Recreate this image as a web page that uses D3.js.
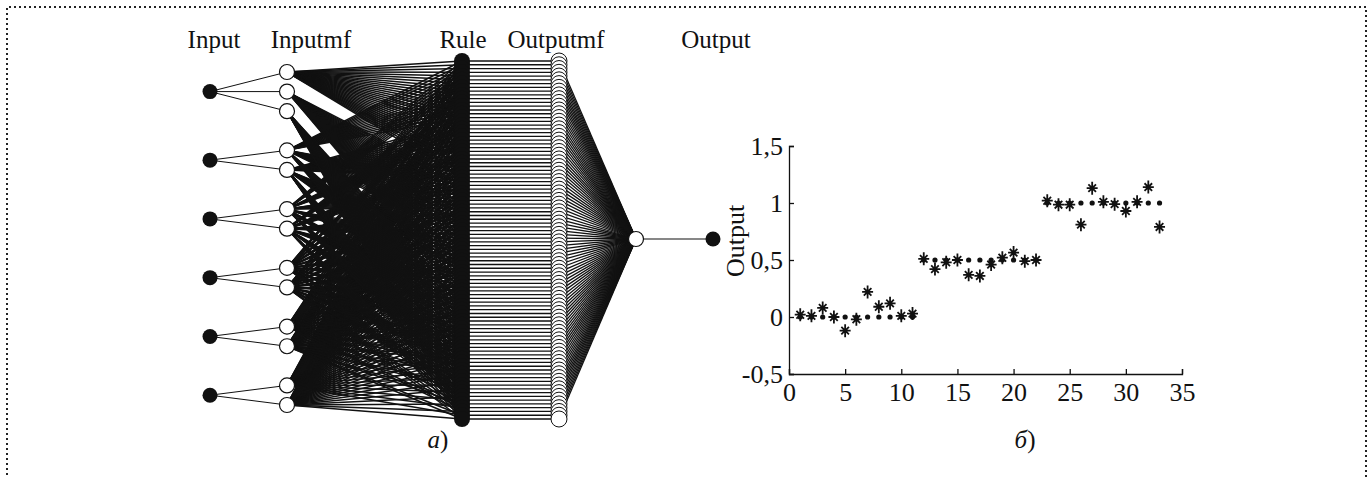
<!DOCTYPE html>
<html><head><meta charset="utf-8">
<script src="https://cdn.jsdelivr.net/npm/d3@7"></script>
<style>
html,body{margin:0;padding:0;background:#fff;}
svg{display:block;}
svg text{font-family:"Liberation Serif","DejaVu Serif",serif !important;}
</style></head>
<body>
<svg id="c" width="1372" height="477"></svg>
<script>
// ---------- data ----------
const layerNames = ["Input", "Inputmf", "Rule", "Outputmf", "Output"];
const mfPerInput = [3, 2, 2, 2, 2, 2];
const caseIdx = [1,2,3,4,5,6,7,8,9,10,11,12,13,14,15,16,17,18,19,20,21,22,23,24,25,26,27,28,29,30,31,32,33];
const targetVals = [0,0,0,0,0,0,0,0,0,0,0, 0.5,0.5,0.5,0.5,0.5,0.5,0.5,0.5,0.5,0.5,0.5, 1,1,1,1,1,1,1,1,1,1,1];
const outputVals = [0.02,0.01,0.08,0.0,-0.12,-0.02,0.22,0.09,0.12,0.01,0.03,
                    0.51,0.42,0.48,0.50,0.37,0.36,0.46,0.52,0.565,0.49,0.50,
                    1.02,0.985,0.985,0.81,1.13,1.01,0.99,0.93,1.01,1.14,0.79];
const xTicks = [0,5,10,15,20,25,30,35];
const yTicks = [-0.5,0,0.5,1,1.5];
const yTickLabels = ["-0,5","0","0,5","1","1,5"];
const captions = ["а", "б"];

const svg = d3.select("#c");
const SERIF = '"Liberation Serif","DejaVu Serif",serif';

// ---------- dotted frame ----------
svg.append("path").attr("d","M7,490 L7,7 L1366,7 L1366,490")
  .attr("stroke","#222").attr("stroke-width",2).attr("stroke-dasharray","2,3").attr("fill","none");

// ---------- network diagram ----------
const net = svg.append("g");
const xPos = {Input: 210, Inputmf: 287, Rule: 462, Outputmf: 559, Agg: 636, Output: 713};

// membership-function slots (groups separated by one empty slot)
const mfNodes = [];
let slot = 0;
mfPerInput.forEach((n, i) => {
  for (let j = 0; j < n; j++) { mfNodes.push({input: i, mf: j, slot: slot}); slot++; }
  slot++;
});
const ySlot = d3.scaleLinear().domain([0, slot - 2]).range([72, 405]);
mfNodes.forEach(d => d.y = ySlot(d.slot));
const inputNodes = mfPerInput.map((n, i) => {
  const ys = mfNodes.filter(d => d.input === i).map(d => d.y);
  return {input: i, y: d3.mean(ys)};
});

// rules: full grid, first input varies slowest
let rules = [[]];
mfPerInput.forEach(n => {
  const next = [];
  rules.forEach(r => { for (let j = 0; j < n; j++) next.push(r.concat([j])); });
  rules = next;
});
const yRule = d3.scaleLinear().domain([0, rules.length - 1]).range([61, 419]);
const aggY = 239;

// input -> mf lines
net.append("g").attr("stroke","#111").attr("stroke-width",1)
  .selectAll("line").data(mfNodes).join("line")
  .attr("x1", xPos.Input).attr("y1", d => inputNodes[d.input].y)
  .attr("x2", xPos.Inputmf).attr("y2", d => d.y);

// mf -> rule lines
const mfRuleLinks = [];
rules.forEach((r, k) => r.forEach((j, i) => {
  const m = mfNodes.find(d => d.input === i && d.mf === j);
  mfRuleLinks.push({y1: m.y, y2: yRule(k)});
}));
net.append("g").attr("stroke","#111").attr("stroke-width",1.5)
  .selectAll("line").data(mfRuleLinks).join("line")
  .attr("x1", xPos.Inputmf).attr("y1", d => d.y1)
  .attr("x2", xPos.Rule).attr("y2", d => d.y2);

// rule -> outputmf lines
net.append("g").attr("stroke","#111").attr("stroke-width",1.3)
  .selectAll("line").data(rules).join("line")
  .attr("x1", xPos.Rule).attr("y1", (d,k) => yRule(k))
  .attr("x2", xPos.Outputmf).attr("y2", (d,k) => yRule(k));

// outputmf -> aggregator lines
net.append("g").attr("stroke","#111").attr("stroke-width",1.3)
  .selectAll("line").data(rules).join("line")
  .attr("x1", xPos.Outputmf).attr("y1", (d,k) => yRule(k))
  .attr("x2", xPos.Agg).attr("y2", aggY);

// aggregator -> output
net.append("line").attr("stroke","#111").attr("stroke-width",1.2)
  .attr("x1", xPos.Agg).attr("y1", aggY).attr("x2", xPos.Output).attr("y2", aggY);

// nodes
const R = 7.5;
net.append("g").selectAll("circle").data(inputNodes).join("circle")
  .attr("cx", xPos.Input).attr("cy", d => d.y).attr("r", R).attr("fill","#111");
net.append("g").selectAll("circle").data(mfNodes).join("circle")
  .attr("cx", xPos.Inputmf).attr("cy", d => d.y).attr("r", R)
  .attr("fill","#fff").attr("stroke","#111").attr("stroke-width",1.2);
net.append("g").selectAll("circle").data(rules).join("circle")
  .attr("cx", xPos.Rule).attr("cy", (d,k) => yRule(k)).attr("r", 8).attr("fill","#111");
net.append("g").selectAll("circle").data(rules).join("circle")
  .attr("cx", xPos.Outputmf).attr("cy", (d,k) => yRule(k)).attr("r", 8)
  .attr("fill","#fff").attr("stroke","#111").attr("stroke-width",1);
net.append("circle").attr("cx", xPos.Agg).attr("cy", aggY).attr("r", R)
  .attr("fill","#fff").attr("stroke","#111").attr("stroke-width",1.2);
net.append("circle").attr("cx", xPos.Output).attr("cy", aggY).attr("r", R).attr("fill","#111");

// layer titles
const titleX = {Input: 214, Inputmf: 311, Rule: 463, Outputmf: 556, Output: 716};
net.append("g").selectAll("text").data(layerNames).join("text")
  .attr("x", d => titleX[d]).attr("y", 48).attr("text-anchor","middle")
  .style("font-family", SERIF).attr("font-size", 25).attr("fill","#111").text(d => d);

// ---------- scatter plot ----------
const x = d3.scaleLinear().domain([0, 35]).range([789, 1182]);
const y = d3.scaleLinear().domain([-0.5, 1.5]).range([374, 146]);
const plot = svg.append("g");

const xAxis = d3.axisBottom(x).tickValues(xTicks).tickSize(-5).tickPadding(8).tickFormat(d3.format("d"));
const gx = plot.append("g").attr("transform", `translate(0,${y(-0.5)})`).call(xAxis);
const yAxis = d3.axisLeft(y).tickValues(yTicks).tickSize(-5).tickPadding(6)
  .tickFormat(d => yTickLabels[yTicks.indexOf(d)]);
const gy = plot.append("g").attr("transform", `translate(${x(0)},0)`).call(yAxis);
[gx, gy].forEach(g => {
  g.attr("font-family", SERIF);
  g.select(".domain").attr("stroke","#111").attr("stroke-width",1.3);
  g.selectAll(".tick line").attr("stroke","#111").attr("stroke-width",1.3);
  g.selectAll(".tick text").attr("fill","#111").attr("font-size",26).style("font-family", SERIF);
});
gx.selectAll(".tick text").attr("dy","0.72em");

// y label
plot.append("text").attr("transform", "translate(744,241) rotate(-90)")
  .attr("text-anchor","middle").attr("font-size",26).style("font-family", SERIF)
  .attr("fill","#111").text("Output");

// target dots
plot.append("g").selectAll("circle").data(caseIdx).join("circle")
  .attr("cx", d => x(d)).attr("cy", (d,i) => y(targetVals[i])).attr("r", 2.6).attr("fill","#111");

// output stars
const starPath = "M-5.5,0L5.5,0M0,-6.5L0,6.5M-3.8,-3.8L3.8,3.8M-3.8,3.8L3.8,-3.8";
plot.append("g").selectAll("path").data(caseIdx).join("path")
  .attr("transform", (d,i) => `translate(${x(d)},${y(outputVals[i])})`)
  .attr("d", starPath).attr("stroke","#111").attr("stroke-width",1.8).attr("fill","none");

// captions
const capPos = [438, 1025];
captions.forEach((c, i) => {
  const t = svg.append("text").attr("x", capPos[i]).attr("y", 448).attr("text-anchor","middle")
    .style("font-family", SERIF).attr("font-size", 25).attr("fill","#111");
  t.append("tspan").attr("font-style","italic").text(c);
  t.append("tspan").text(")");
});
</script>
</body></html>
